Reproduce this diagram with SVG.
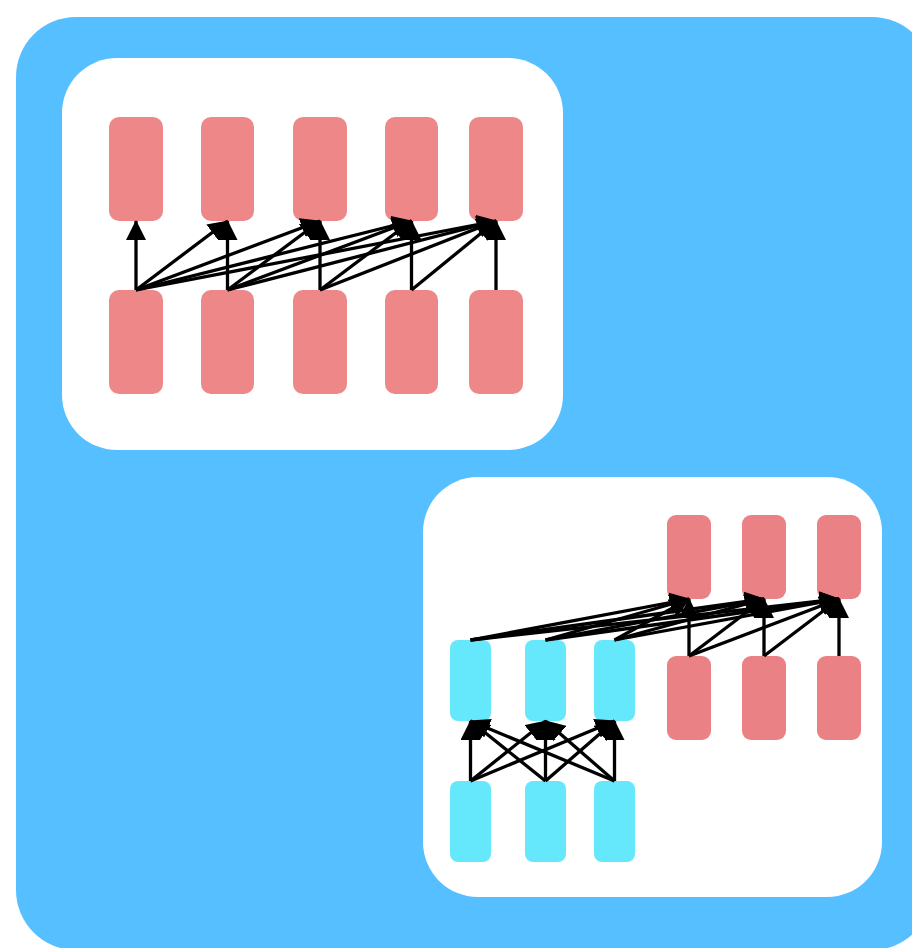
<svg xmlns="http://www.w3.org/2000/svg" width="912" height="948" viewBox="0 0 912 948">
<style>
.red{fill:#EE8888}
.red2{fill:#EA8285}
.cyan{fill:#66E8FC}
.panel{fill:#FFFFFF}
.edge{stroke:#000;stroke-width:3.3;fill:none;marker-end:url(#ah)}
</style>
<defs>
<marker id="ah" markerUnits="userSpaceOnUse" markerWidth="20" markerHeight="20" refX="19" refY="10" orient="auto" viewBox="0 0 20 20">
<path d="M0,0 L20,10 L0,20 z" fill="#000"/>
</marker>
</defs>
<rect x="16" y="17" width="916" height="933" rx="60" fill="#56BFFF"/>
<g id="panel1"><rect class="panel" x="62" y="58" width="501" height="392" rx="55"/></g>
<g id="panel2"><rect class="panel" x="423" y="477" width="459" height="420" rx="55"/></g>
<g id="p1-top">
<rect id="t1" class="red" x="109" y="117" width="54" height="104" rx="10"/>
<rect id="t2" class="red" x="201" y="117" width="53" height="104" rx="10"/>
<rect id="t3" class="red" x="293" y="117" width="54" height="104" rx="10"/>
<rect id="t4" class="red" x="385" y="117" width="53" height="104" rx="10"/>
<rect id="t5" class="red" x="469" y="117" width="54" height="104" rx="10"/>
</g>
<g id="p1-bottom">
<rect id="b1" class="red" x="109" y="290" width="54" height="104" rx="10"/>
<rect id="b2" class="red" x="201" y="290" width="53" height="104" rx="10"/>
<rect id="b3" class="red" x="293" y="290" width="54" height="104" rx="10"/>
<rect id="b4" class="red" x="385" y="290" width="53" height="104" rx="10"/>
<rect id="b5" class="red" x="469" y="290" width="54" height="104" rx="10"/>
</g>
<g id="p2-red-top">
<rect id="rt1" class="red2" x="667" y="515" width="44" height="84" rx="9"/>
<rect id="rt2" class="red2" x="742" y="515" width="44" height="84" rx="9"/>
<rect id="rt3" class="red2" x="817" y="515" width="44" height="84" rx="9"/>
</g>
<g id="p2-red-bottom">
<rect id="rb1" class="red2" x="667" y="656" width="44" height="84" rx="9"/>
<rect id="rb2" class="red2" x="742" y="656" width="44" height="84" rx="9"/>
<rect id="rb3" class="red2" x="817" y="656" width="44" height="84" rx="9"/>
</g>
<g id="p2-cyan-top">
<rect id="ct1" class="cyan" x="450" y="640" width="41" height="81" rx="8"/>
<rect id="ct2" class="cyan" x="525" y="640" width="41" height="81" rx="8"/>
<rect id="ct3" class="cyan" x="594" y="640" width="41" height="81" rx="8"/>
</g>
<g id="p2-cyan-bottom">
<rect id="cb1" class="cyan" x="450" y="781" width="41" height="81" rx="8"/>
<rect id="cb2" class="cyan" x="525" y="781" width="41" height="81" rx="8"/>
<rect id="cb3" class="cyan" x="594" y="781" width="41" height="81" rx="8"/>
</g>
<g id="connectors">
<line class="edge" x1="136" y1="290" x2="136" y2="221"/>
<line class="edge" x1="136" y1="290" x2="227.5" y2="221"/>
<line class="edge" x1="136" y1="290" x2="320" y2="221"/>
<line class="edge" x1="136" y1="290" x2="411.5" y2="221"/>
<line class="edge" x1="136" y1="290" x2="496" y2="221"/>
<line class="edge" x1="227.5" y1="290" x2="227.5" y2="221"/>
<line class="edge" x1="227.5" y1="290" x2="320" y2="221"/>
<line class="edge" x1="227.5" y1="290" x2="411.5" y2="221"/>
<line class="edge" x1="227.5" y1="290" x2="496" y2="221"/>
<line class="edge" x1="320" y1="290" x2="320" y2="221"/>
<line class="edge" x1="320" y1="290" x2="411.5" y2="221"/>
<line class="edge" x1="320" y1="290" x2="496" y2="221"/>
<line class="edge" x1="411.5" y1="290" x2="411.5" y2="221"/>
<line class="edge" x1="411.5" y1="290" x2="496" y2="221"/>
<line class="edge" x1="496" y1="290" x2="496" y2="221"/>

<line class="edge" x1="470.5" y1="781" x2="470.5" y2="721"/>
<line class="edge" x1="470.5" y1="781" x2="545.5" y2="721"/>
<line class="edge" x1="470.5" y1="781" x2="614.5" y2="721"/>
<line class="edge" x1="545.5" y1="781" x2="470.5" y2="721"/>
<line class="edge" x1="545.5" y1="781" x2="545.5" y2="721"/>
<line class="edge" x1="545.5" y1="781" x2="614.5" y2="721"/>
<line class="edge" x1="614.5" y1="781" x2="470.5" y2="721"/>
<line class="edge" x1="614.5" y1="781" x2="545.5" y2="721"/>
<line class="edge" x1="614.5" y1="781" x2="614.5" y2="721"/>

<line class="edge" x1="470.5" y1="640" x2="689" y2="599"/>
<line class="edge" x1="470.5" y1="640" x2="764" y2="599"/>
<line class="edge" x1="470.5" y1="640" x2="839" y2="599"/>
<line class="edge" x1="545.5" y1="640" x2="689" y2="599"/>
<line class="edge" x1="545.5" y1="640" x2="764" y2="599"/>
<line class="edge" x1="545.5" y1="640" x2="839" y2="599"/>
<line class="edge" x1="614.5" y1="640" x2="689" y2="599"/>
<line class="edge" x1="614.5" y1="640" x2="764" y2="599"/>
<line class="edge" x1="614.5" y1="640" x2="839" y2="599"/>

<line class="edge" x1="689" y1="656" x2="689" y2="599"/>
<line class="edge" x1="689" y1="656" x2="764" y2="599"/>
<line class="edge" x1="689" y1="656" x2="839" y2="599"/>
<line class="edge" x1="764" y1="656" x2="764" y2="599"/>
<line class="edge" x1="764" y1="656" x2="839" y2="599"/>
<line class="edge" x1="839" y1="656" x2="839" y2="599"/>
</g>
</svg>
